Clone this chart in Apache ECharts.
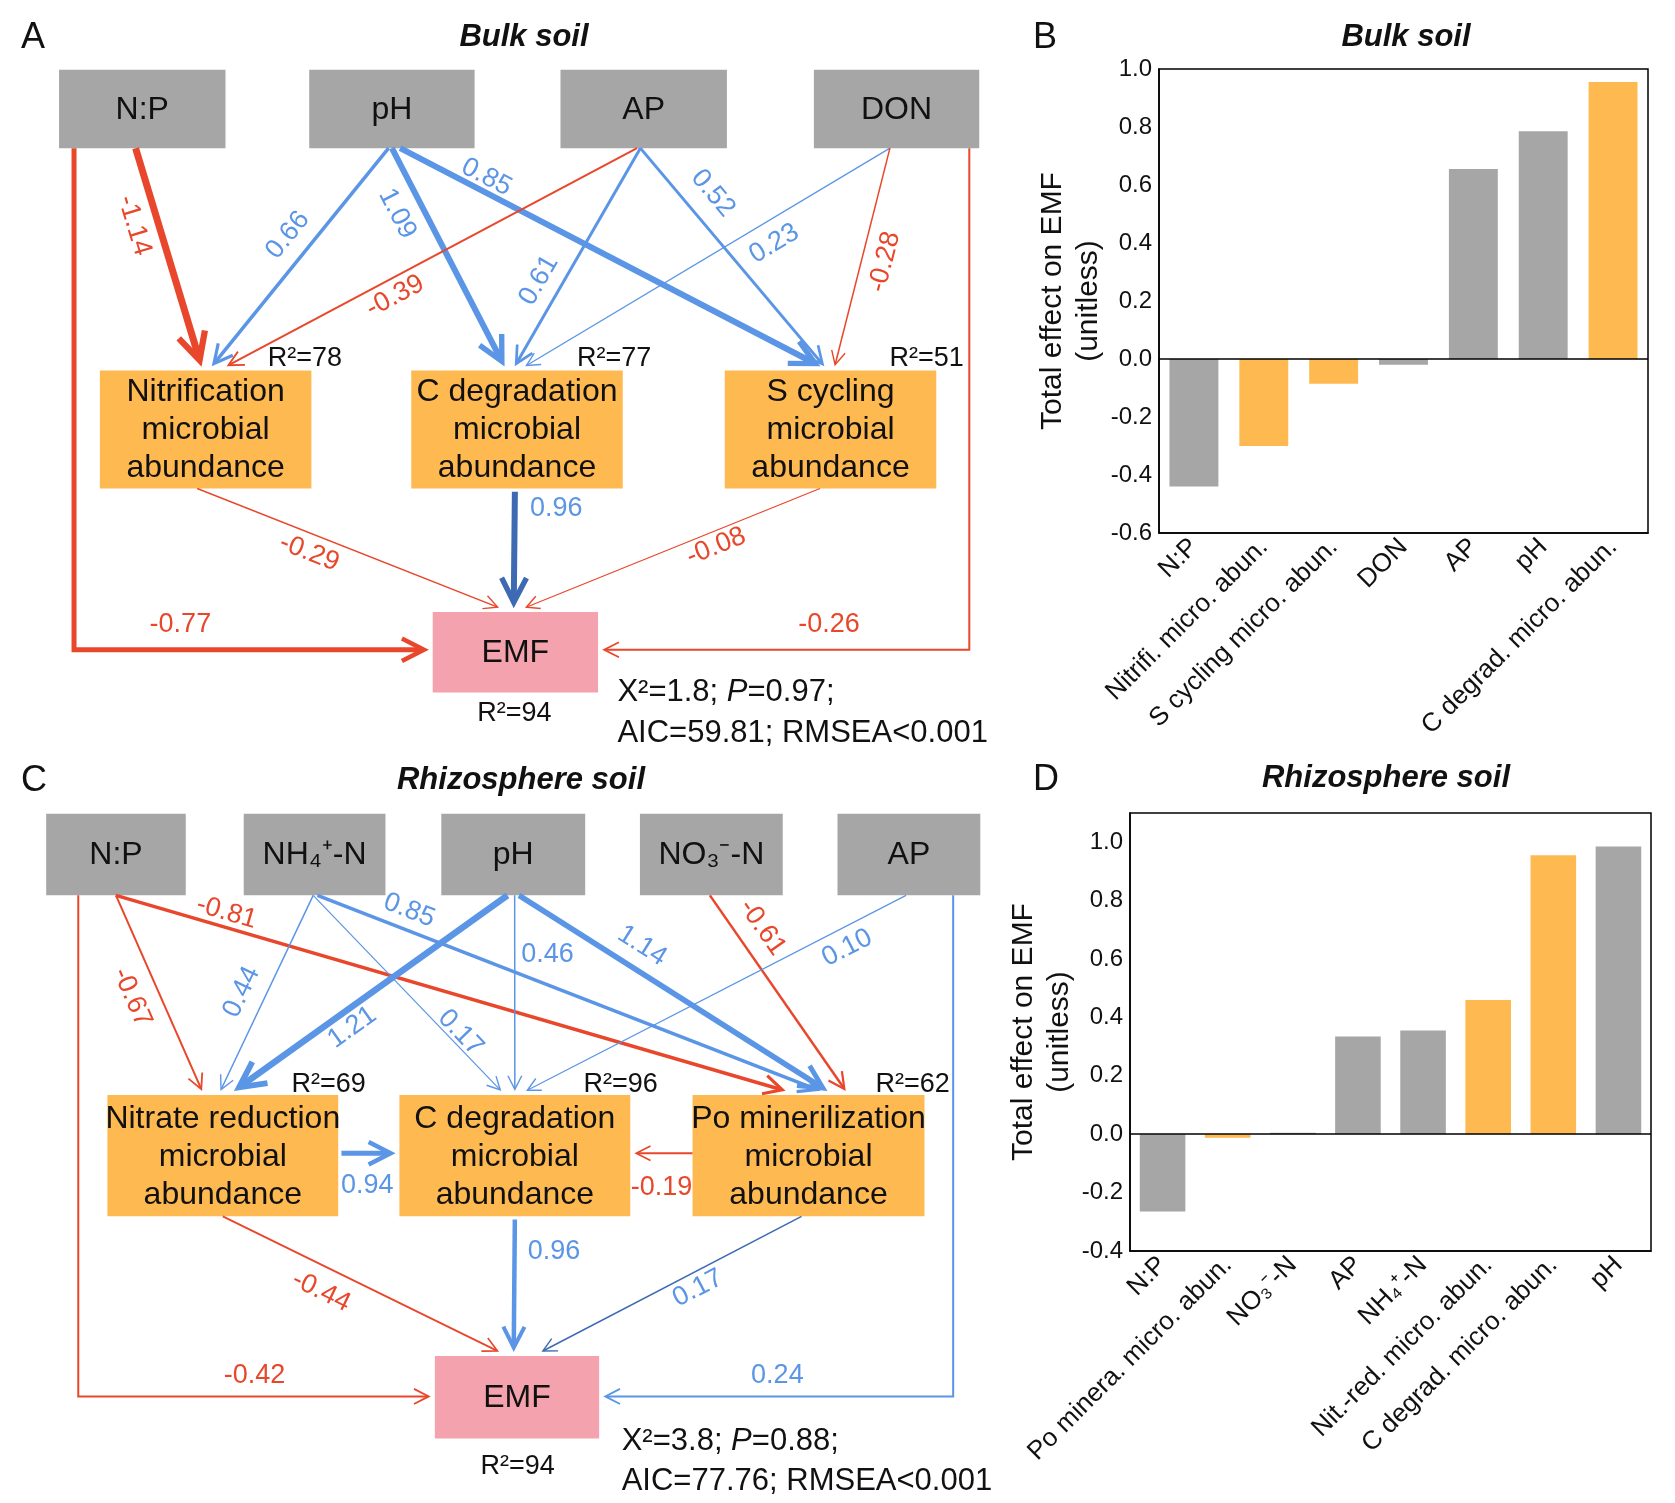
<!DOCTYPE html>
<html>
<head>
<meta charset="utf-8">
<script src="https://cdn.jsdelivr.net/npm/echarts@6/dist/echarts.min.js"></script>
<style>
html,body{margin:0;padding:0;background:#fff;}
#main{width:1675px;height:1503px;}
</style>
</head>
<body>
<div id="main"></div>
<script>
// ================= DATA =================
// Panel B: total effects, bulk soil
const bulkBarCategories = ['N:P', 'Nitrifi. micro. abun.', 'S cycling micro. abun.', 'DON', 'AP', 'pH', 'C degrad. micro. abun.'];
const bulkBarValues = [-0.44, -0.30, -0.085, -0.02, 0.655, 0.785, 0.955];
const bulkBarGroups = ['soil', 'microbe', 'microbe', 'soil', 'soil', 'soil', 'microbe'];
const bulkAxisRange = [-0.6, 1.0, 0.2];

// Panel D: total effects, rhizosphere soil
const rhizoBarCategories = ['N:P', 'Po minera. micro. abun.', 'NO\u2083\u207B-N', 'AP', 'NH\u2084\u207A-N', 'Nit.-red. micro. abun.', 'C degrad. micro. abun.', 'pH'];
const rhizoBarValues = [-0.265, -0.012, 0.005, 0.335, 0.355, 0.46, 0.955, 0.985];
const rhizoBarGroups = ['soil', 'microbe', 'soil', 'soil', 'soil', 'microbe', 'microbe', 'soil'];
const rhizoAxisRange = [-0.4, 1.1, 0.2];

// Panel A: SEM, bulk soil
const bulkNodeIds = ['NP', 'pH', 'AP', 'DON', 'NIT', 'CDEG', 'SCYC', 'EMF'];
const bulkNodeLabels = ['N:P', 'pH', 'AP', 'DON', 'Nitrification\nmicrobial\nabundance', 'C degradation\nmicrobial\nabundance', 'S cycling\nmicrobial\nabundance', 'EMF'];
const bulkNodeTypes = ['soil', 'soil', 'soil', 'soil', 'microbe', 'microbe', 'microbe', 'emf'];
const bulkNodeR2 = [null, null, null, null, 78, 77, 51, 94];
const bulkPaths = [
  ['NP', 'NIT', -1.14],
  ['pH', 'NIT', 0.66],
  ['pH', 'CDEG', 1.09],
  ['pH', 'SCYC', 0.85],
  ['AP', 'NIT', -0.39],
  ['AP', 'CDEG', 0.61],
  ['AP', 'SCYC', 0.52],
  ['DON', 'CDEG', 0.23],
  ['DON', 'SCYC', -0.28],
  ['NP', 'EMF', -0.77],
  ['DON', 'EMF', -0.26],
  ['NIT', 'EMF', -0.29],
  ['CDEG', 'EMF', 0.96],
  ['SCYC', 'EMF', -0.08]
];
const bulkFit = ['1.8', '0.97', '59.81', '<0.001']; // chi2, P, AIC, RMSEA

// Panel C: SEM, rhizosphere soil
const rhizoNodeIds = ['NP', 'NH4', 'pH', 'NO3', 'AP', 'NR', 'CDEG', 'PO', 'EMF'];
const rhizoNodeLabels = ['N:P', 'NH\u2084\u207A-N', 'pH', 'NO\u2083\u207B-N', 'AP', 'Nitrate reduction\nmicrobial\nabundance', 'C degradation\nmicrobial\nabundance', 'Po minerilization\nmicrobial\nabundance', 'EMF'];
const rhizoNodeTypes = ['soil', 'soil', 'soil', 'soil', 'soil', 'microbe', 'microbe', 'microbe', 'emf'];
const rhizoNodeR2 = [null, null, null, null, null, 69, 96, 62, 94];
const rhizoPaths = [
  ['NP', 'NR', -0.67],
  ['NP', 'PO', -0.81],
  ['NH4', 'NR', 0.44],
  ['NH4', 'CDEG', 0.17],
  ['NH4', 'PO', 0.85],
  ['pH', 'NR', 1.21],
  ['pH', 'CDEG', 0.46],
  ['pH', 'PO', 1.14],
  ['NO3', 'PO', -0.61],
  ['AP', 'CDEG', 0.10],
  ['NP', 'EMF', -0.42],
  ['AP', 'EMF', 0.24],
  ['NR', 'CDEG', 0.94],
  ['PO', 'CDEG', -0.19],
  ['NR', 'EMF', -0.44],
  ['CDEG', 'EMF', 0.96],
  ['PO', 'EMF', 0.17]
];
const rhizoFit = ['3.8', '0.88', '77.76', '<0.001'];

// ================= LAYOUT & STYLE =================
const FONT = '"Liberation Sans", Arial, Helvetica, sans-serif';
const COLORS = {
  soil: '#A6A6A6', microbe: '#FFB951', emf: '#F4A3AE',
  neg: '#E8472B', pos: '#5B95E5', posDark: '#3D6AB3', text: '#111111'
};
// diagram layout units (mapped to the page by a hidden value-axis grid)
const DIAGRAM_W = 1560, DIAGRAM_H = 1400;

const bulkLayout = {
  boxes: {
    NP: [55, 65, 210, 138], pH: [288, 65, 442, 138], AP: [522, 65, 677, 138], DON: [758, 65, 912, 138],
    NIT: [93, 345, 290, 455], CDEG: [383, 345, 580, 455], SCYC: [675, 345, 872, 455],
    EMF: [403, 570, 557, 645]
  },
  r2: { NIT: [284, 334], CDEG: [572, 334], SCYC: [863, 334], EMF: [479, 665] },
  fit: [575, 645, 683],
  paths: [
    { s: ['b', .46], e: ['t', .48], w: 7, lab: [125, 210] },
    { s: ['b', .48], e: ['t', .53], w: 3.5, lab: [268, 219] },
    { s: ['b', .50], e: ['t', .44], w: 6, lab: [370, 199] },
    { s: ['b', .55], e: ['t', .45], w: 6, lab: [453, 165] },
    { s: ['b', .46], e: ['t', .60], w: 2, lab: [368, 276] },
    { s: ['b', .48], e: ['t', .49], w: 3, lab: [502, 261] },
    { s: ['b', .48], e: ['t', .47], w: 3, lab: [664, 180] },
    { s: ['b', .46], e: ['t', .54], w: 1.3, lab: [721, 227] },
    { s: ['b', .46], e: ['t', .52], w: 1.5, lab: [824, 244] },
    { s: ['b', .09], e: ['l', .47], route: 'elbow', w: 5, lab: [168, 582] },
    { s: ['b', .94], e: ['r', .47], route: 'elbow', w: 2, lab: [772, 582] },
    { s: ['b', .46], e: ['t', .40], w: 1.5, lab: [288, 515] },
    { s: ['b', .49], e: ['t', .49], w: 6, lab: [518, 474], color: 'posDark', sg: 3 },
    { s: ['b', .45], e: ['t', .56], w: 1.2, lab: [667, 509] }
  ]
};

const rhizoLayout = {
  boxes: {
    NP: [43, 758, 173, 834], NH4: [227, 758, 359, 834], pH: [411, 758, 545, 834], NO3: [596, 758, 729, 834], AP: [780, 758, 913, 834],
    NR: [100, 1020, 315, 1133], CDEG: [372, 1020, 587, 1133], PO: [645, 1020, 861, 1133],
    EMF: [405, 1263, 558, 1340]
  },
  r2: { NR: [306, 1010], CDEG: [578, 1010], PO: [850, 1010], EMF: [482, 1366] },
  fit: [579, 1343, 1380],
  paths: [
    { s: ['b', .50], e: ['t', .41], w: 2, lab: [123, 929] },
    { s: ['b', .50], e: ['t', .40], w: 3.5, lab: [211, 850] },
    { s: ['b', .49], e: ['t', .49], w: 1.5, lab: [225, 924] },
    { s: ['b', .49], e: ['t', .44], w: 1.2, lab: [429, 962] },
    { s: ['b', .52], e: ['t', .55], w: 3.5, lab: [381, 848] },
    { s: ['b', .46], e: ['t', .55], w: 6.5, lab: [328, 957] },
    { s: ['b', .51], e: ['t', .50], w: 1.5, lab: [510, 889] },
    { s: ['b', .54], e: ['t', .58], w: 5.5, lab: [598, 881] },
    { s: ['b', .49], e: ['t', .66], w: 2.5, lab: [710, 864] },
    { s: ['b', .48], e: ['t', .55], w: 1.2, lab: [789, 883] },
    { s: ['b', .23], e: ['l', .49], route: 'elbow', w: 2, lab: [237, 1281] },
    { s: ['b', .81], e: ['r', .49], route: 'elbow', w: 2, lab: [724, 1281] },
    { s: ['r', .48], e: ['l', .48], w: 5, lab: [342, 1104], sg: 3 },
    { s: ['l', .48], e: ['r', .48], w: 1.8, lab: [616, 1106] },
    { s: ['b', .50], e: ['t', .39], w: 1.8, lab: [299, 1203] },
    { s: ['b', .50], e: ['t', .48], w: 4.5, lab: [516, 1166], sg: 3 },
    { s: ['b', .47], e: ['t', .65], w: 1.5, lab: [650, 1200], color: 'posDark' }
  ]
};

// ================= HELPERS =================
function anchor(box, side, f, gap) {
  const [x0, y0, x1, y1] = box;
  if (side === 'b') return [x0 + f * (x1 - x0), y1 + gap];
  if (side === 't') return [x0 + f * (x1 - x0), y0 - gap];
  if (side === 'l') return [x0 - gap, y0 + f * (y1 - y0)];
  return [x1 + gap, y0 + f * (y1 - y0)];
}

function txt(x, y, text, extra) {
  return {
    type: 'text', x: x, y: y,
    style: Object.assign({
      text: text, fill: COLORS.text, fontSize: 26, fontFamily: FONT,
      align: 'center', verticalAlign: 'middle', textAlign: 'center', textVerticalAlign: 'middle'
    }, extra || {})
  };
}

function nodeSeries(ids, labels, types, r2, layout) {
  return {
    type: 'custom', xAxisIndex: 0, yAxisIndex: 0, clip: false, silent: true, z: 2,
    data: ids.map((d, i) => [i, 0]),
    renderItem: function (params, api) {
      const i = api.value(0);
      const id = ids[i];
      const b = layout.boxes[id];
      const p0 = api.coord([b[0], b[1]]), p1 = api.coord([b[2], b[3]]);
      const children = [
        { type: 'rect', shape: { x: p0[0], y: p0[1], width: p1[0] - p0[0], height: p1[1] - p0[1] }, style: { fill: COLORS[types[i]] } },
        txt((p0[0] + p1[0]) / 2, (p0[1] + p1[1]) / 2 + 1, labels[i], { fontSize: 32, lineHeight: 38 })
      ];
      if (r2[i] != null && layout.r2[id]) {
        const q = api.coord(layout.r2[id]);
        children.push(txt(q[0], q[1], 'R\u00B2=' + r2[i], { fontSize: 27 }));
      }
      return { type: 'group', children: children };
    }
  };
}

function pathSeries(paths, layout) {
  return {
    type: 'custom', xAxisIndex: 0, yAxisIndex: 0, clip: false, silent: true, z: 3,
    data: paths.map((d, i) => [i, 0]),
    renderItem: function (params, api) {
      const i = api.value(0);
      const from = paths[i][0], to = paths[i][1], coef = paths[i][2];
      const L = layout.paths[i];
      const s = anchor(layout.boxes[from], L.s[0], L.s[1], L.sg || 0);
      const e = anchor(layout.boxes[to], L.e[0], L.e[1], L.eg == null ? 4 : L.eg);
      const pts = [s];
      if (L.route === 'elbow') pts.push([s[0], e[1]]);
      pts.push(e);
      const px = pts.map(p => api.coord(p));
      const color = L.color ? COLORS[L.color] : (coef < 0 ? COLORS.neg : COLORS.pos);
      const labColor = coef < 0 ? COLORS.neg : COLORS.pos;
      const n = px.length;
      const tip = px[n - 1], prev = px[n - 2];
      let dx = tip[0] - prev[0], dy = tip[1] - prev[1];
      const len = Math.hypot(dx, dy); dx /= len; dy /= len;
      const w = L.w;
      const headLen = 10 + 2.4 * w;
      const hw = headLen * Math.tan(27 * Math.PI / 180);
      const vx = tip[0] - dx * w * 0.9, vy = tip[1] - dy * w * 0.9;
      const bx = vx - dx * headLen, by = vy - dy * headLen;
      const wing1 = [bx - dy * hw, by + dx * hw], wing2 = [bx + dy * hw, by - dx * hw];
      const linePts = px.slice(0, n - 1).concat([[vx - dx * w * 0.4, vy - dy * w * 0.4]]);
      let rot = 0;
      if (L.route !== 'elbow') {
        const ddx = px[n - 1][0] - px[0][0], ddy = px[n - 1][1] - px[0][1];
        if (Math.abs(ddx) > 4 && Math.abs(ddy) > 4) {
          let a = Math.atan2(ddy, ddx);
          if (a > Math.PI / 2) a -= Math.PI;
          if (a <= -Math.PI / 2) a += Math.PI;
          rot = -a;
        }
      }
      const lp = api.coord(L.lab);
      const label = txt(lp[0], lp[1], coef.toFixed(2), { fill: labColor, fontSize: 27 });
      label.rotation = rot;
      return {
        type: 'group', children: [
          { type: 'polyline', shape: { points: linePts }, style: { stroke: color, lineWidth: w, fill: null, lineJoin: 'miter' } },
          { type: 'polyline', shape: { points: [wing1, [vx, vy], wing2] }, style: { stroke: color, lineWidth: Math.max(w * 0.9, 1.4), fill: null, lineJoin: 'miter', miterLimit: 10 } },
          label
        ]
      };
    }
  };
}

function fitSeries(fit, layout) {
  return {
    type: 'custom', xAxisIndex: 0, yAxisIndex: 0, clip: false, silent: true, z: 4,
    data: [[0, 0]],
    renderItem: function (params, api) {
      const a = api.coord([layout.fit[0], layout.fit[1]]);
      const b = api.coord([layout.fit[0], layout.fit[2]]);
      const base = { fontSize: 31, fontFamily: FONT, fill: COLORS.text, color: COLORS.text };
      return {
        type: 'group', children: [
          {
            type: 'text', x: a[0], y: a[1],
            style: {
              text: '{n|X\u00B2=' + fit[0] + '; }{i|P}{n|=' + fit[1] + ';}',
              rich: { n: base, i: Object.assign({}, base, { fontStyle: 'italic' }) },
              align: 'left', verticalAlign: 'middle', textAlign: 'left', textVerticalAlign: 'middle'
            }
          },
          txt(b[0], b[1], 'AIC=' + fit[2] + '; RMSEA' + fit[3], { fontSize: 31, align: 'left', textAlign: 'left' })
        ]
      };
    }
  };
}

function barData(values, groups) {
  return values.map((v, i) => ({ value: v, itemStyle: { color: COLORS[groups[i]] } }));
}

function tickFmt(v) {
  if (Math.abs(v) < 1e-9) return '0.0';
  return v.toFixed(1);
}

function catAxis(gridIndex, cats) {
  return {
    gridIndex: gridIndex, type: 'category', data: cats, position: 'bottom',
    axisLine: { show: true, onZero: false, lineStyle: { color: '#000', width: 1.5 } },
    axisTick: { show: false },
    axisLabel: { interval: 0, rotate: 45, fontSize: 26, color: '#111', margin: 10, fontFamily: FONT },
    splitLine: { show: false }
  };
}

function valAxis(gridIndex, range, nameGap) {
  return {
    gridIndex: gridIndex, type: 'value', min: range[0], max: range[1], interval: range[2],
    axisLine: { show: true, lineStyle: { color: '#000', width: 1.5 } },
    axisTick: { show: false },
    splitLine: { show: false },
    axisLabel: { fontSize: 24, color: '#111', margin: 7, fontFamily: FONT, formatter: tickFmt, showMaxLabel: range[1] === 1.0 },
    name: 'Total effect on EMF\n(unitless)', nameLocation: 'middle', nameRotate: 90, nameGap: nameGap,
    nameTextStyle: { fontSize: 30, lineHeight: 36, color: '#111', fontFamily: FONT }
  };
}

function barSeries(axisIndex, values, groups) {
  return {
    type: 'bar', xAxisIndex: axisIndex, yAxisIndex: axisIndex,
    data: barData(values, groups), barCategoryGap: '30%', silent: true,
    markLine: {
      silent: true, symbol: 'none', label: { show: false },
      lineStyle: { color: '#000', width: 1.5, type: 'solid' },
      data: [{ yAxis: 0 }], animation: false
    }
  };
}

function panelTitle(text, left, top, size, bold, center) {
  return {
    text: text, left: left, top: top, padding: 0, textAlign: center ? 'center' : 'left',
    textStyle: { fontSize: size, fontWeight: bold ? 'bold' : 'normal', fontStyle: bold ? 'italic' : 'normal', color: '#111', fontFamily: FONT }
  };
}

// ================= CHART =================
const chart = echarts.init(document.getElementById('main'), null, { renderer: 'canvas' });
chart.setOption({
  animation: false,
  backgroundColor: '#ffffff',
  textStyle: { fontFamily: FONT },
  title: [
    panelTitle('A', 21, 20, 36, false, false),
    panelTitle('Bulk soil', 524, 22, 31, true, true),
    panelTitle('B', 1033, 20, 36, false, false),
    panelTitle('Bulk soil', 1406, 22, 31, true, true),
    panelTitle('C', 21, 763, 36, false, false),
    panelTitle('Rhizosphere soil', 521, 765, 31, true, true),
    panelTitle('D', 1033, 762, 36, false, false),
    panelTitle('Rhizosphere soil', 1386, 763, 31, true, true)
  ],
  grid: [
    { left: 0, top: 0, width: 1675, height: 1503, show: false },
    { left: 1159, top: 69, width: 489, height: 464, show: true, borderColor: '#000', borderWidth: 1.5, backgroundColor: 'transparent' },
    { left: 1130, top: 813, width: 521, height: 438, show: true, borderColor: '#000', borderWidth: 1.5, backgroundColor: 'transparent' }
  ],
  xAxis: [
    { gridIndex: 0, type: 'value', min: 0, max: DIAGRAM_W, show: false },
    catAxis(1, bulkBarCategories),
    catAxis(2, rhizoBarCategories)
  ],
  yAxis: [
    { gridIndex: 0, type: 'value', min: 0, max: DIAGRAM_H, inverse: true, show: false },
    valAxis(1, bulkAxisRange, 52),
    valAxis(2, rhizoAxisRange, 49)
  ],
  series: [
    nodeSeries(bulkNodeIds, bulkNodeLabels, bulkNodeTypes, bulkNodeR2, bulkLayout),
    pathSeries(bulkPaths, bulkLayout),
    fitSeries(bulkFit, bulkLayout),
    nodeSeries(rhizoNodeIds, rhizoNodeLabels, rhizoNodeTypes, rhizoNodeR2, rhizoLayout),
    pathSeries(rhizoPaths, rhizoLayout),
    fitSeries(rhizoFit, rhizoLayout),
    barSeries(1, bulkBarValues, bulkBarGroups),
    barSeries(2, rhizoBarValues, rhizoBarGroups)
  ]
});
</script>
</body>
</html>
